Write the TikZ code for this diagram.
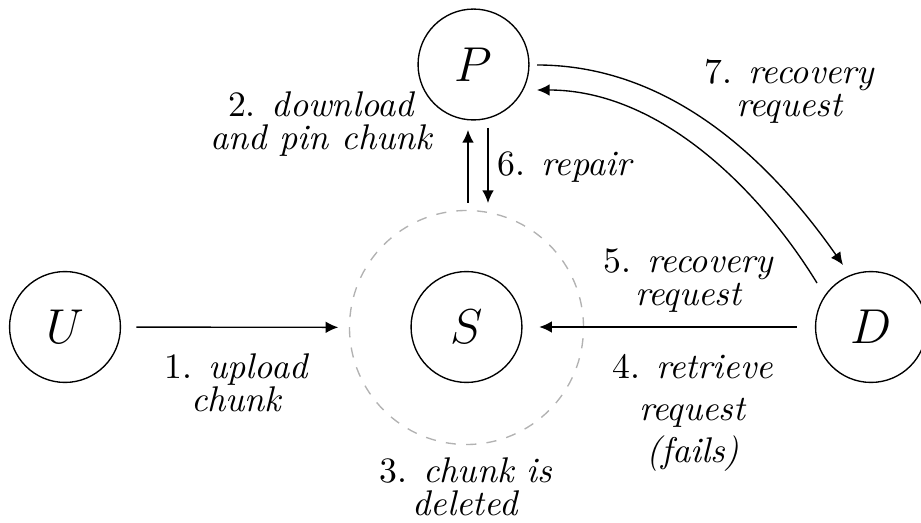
\documentclass[tikz,border=0pt]{standalone}
\usetikzlibrary{arrows.meta}
\begin{document}
\begin{tikzpicture}[x=0.294pt,y=-0.294pt,
  party/.style={circle,draw,line width=0.4pt,minimum size=32.6pt,inner sep=0pt,font=\fontsize{13.8}{16}\selectfont},
  zone/.style={circle,draw=black!30,dashed,line width=0.4pt,minimum size=68.8pt,inner sep=0pt},
  arr/.style={-{Latex[length=3.7pt,width=3.4pt]},line width=0.4pt},
  lbl/.style={align=center,font=\fontsize{10.5}{9.7}\selectfont},
  lblwide/.style={align=center,font=\fontsize{10.5}{12.3}\selectfont}]
\useasboundingbox (0,0) rectangle (921,523);
\node[party] (U) at (65,327) {$U$};
\node[party] (S) at (466.5,327) {$S$};
\node[zone] (C) at (466.5,327.5) {};
\node[party] (P) at (473.5,64.5) {$P$};
\node[party] (D) at (871,327) {$D$};
% 1. upload
\draw[arr,shorten <=4.5pt,shorten >=3.1pt] (U) -- (C);
% 4/5 retrieve / recovery
\draw[arr,shorten <=5.4pt,shorten >=4.9pt] (D) -- (S);
% 2 and 6
\coordinate (a2s) at (468,203);
\coordinate (a2e) at (468,130);
\coordinate (a6s) at (488,128);
\coordinate (a6e) at (488,203);
\draw[arr] (a2s) -- (a2e);
\draw[arr] (a6s) -- (a6e);
% 7 curves
\coordinate (c1s) at (537,65);
\coordinate (c1e) at (843,265);
\coordinate (c2s) at (817,283);
\coordinate (c2e) at (537,90);
\draw[arr] (c1s) .. controls (680,65) and (780,175) .. (c1e);
\draw[arr] (c2s) .. controls (760,190) and (660,90) .. (c2e);
% labels
\node[lbl] (l1) at (237,383) {1. \textit{upload}\\\textit{chunk}};
\node[lbl] (l2) at (322,124) {2. \textit{download}\\\textit{and pin chunk}};
\node[lbl] (l3) at (466,487) {3. \textit{chunk is}\\\textit{deleted}};
\node[lblwide] (l4) at (693,413) {4. \textit{retrieve}\\\textit{request}\\\textit{(fails)}};
\node[lbl] (l5) at (689,281) {5. \textit{recovery}\\\textit{request}};
\node[lbl] (l6) at (566,167) {6. \textit{repair}};
\node[lbl] (l7) at (790,91) {7. \textit{recovery}\\\textit{request}};
\end{tikzpicture}
\end{document}
